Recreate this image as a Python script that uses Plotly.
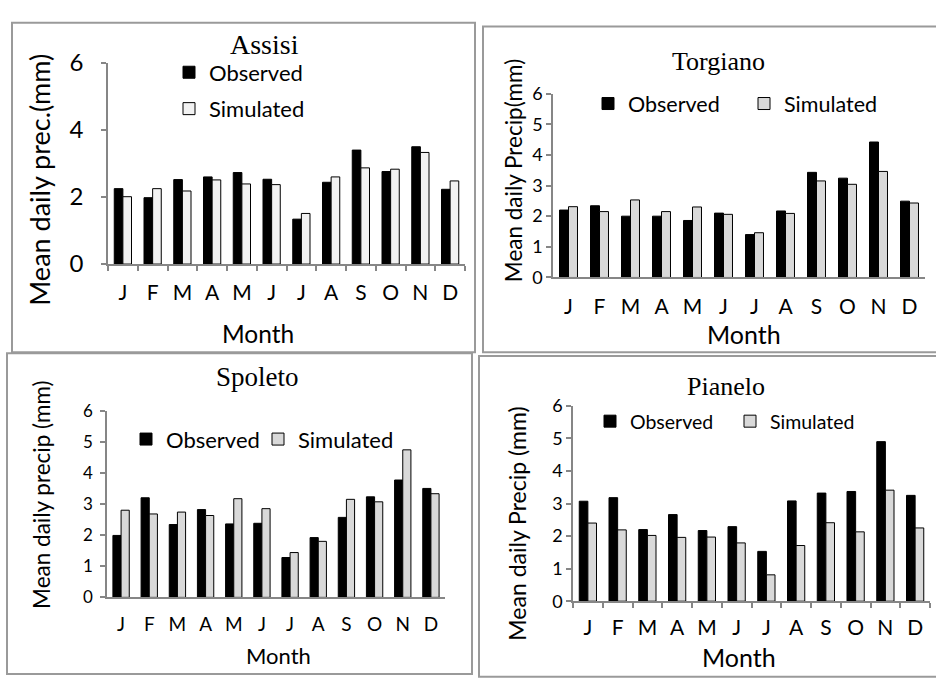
import plotly.graph_objects as go

W, H = 936, 687

months = ["J", "F", "M", "A", "M ", "J ", "J  ", "A ", "S", "O", "N", "D"]
month_text = ["J", "F", "M", "A", "M", "J", "J", "A", "S", "O", "N", "D"]

assisi_obs = [2.25, 1.98, 2.52, 2.60, 2.73, 2.53, 1.34, 2.44, 3.40, 2.76, 3.50, 2.23]
assisi_sim = [2.01, 2.25, 2.18, 2.51, 2.39, 2.37, 1.51, 2.60, 2.87, 2.83, 3.33, 2.48]

torgiano_obs = [2.20, 2.34, 2.00, 2.00, 1.86, 2.10, 1.40, 2.17, 3.43, 3.24, 4.42, 2.49]
torgiano_sim = [2.31, 2.15, 2.53, 2.15, 2.30, 2.06, 1.46, 2.09, 3.15, 3.04, 3.46, 2.43]

spoleto_obs = [1.99, 3.20, 2.34, 2.82, 2.36, 2.38, 1.28, 1.92, 2.57, 3.23, 3.77, 3.50]
spoleto_sim = [2.80, 2.68, 2.74, 2.63, 3.17, 2.85, 1.44, 1.80, 3.15, 3.07, 4.74, 3.33]

pianelo_obs = [3.07, 3.18, 2.20, 2.66, 2.17, 2.29, 1.53, 3.08, 3.32, 3.37, 4.90, 3.25]
pianelo_sim = [2.40, 2.19, 2.02, 1.96, 1.97, 1.79, 0.81, 1.71, 2.41, 2.13, 3.41, 2.25]

FONT = "Lato"
SERIF = "Liberation Serif"

def px_x(v):
    return v / W

def px_y(v):
    return 1 - v / H

panels = [
    dict(name="Assisi", obs=assisi_obs, sim=assisi_sim, simcol="#f2f2f2",
         xd=(108, 465), yd=(49, 259), dtick=2, ticks_x=True,
         ytitle="Mean daily prec.(mm)", tickfont=24, xfont=21, titlefont=28,
         tpos=(264, 30), ytpos=(40, 171), ytfont=27, mpos=(258, 332), mfont=24.5,
         leg_font=22, leg_obs=(169, 37), leg_sim=(169, 75),
         box=(12, 7, 475, 351), ystand=13, xstand=9),
    dict(name="Torgiano", obs=torgiano_obs, sim=torgiano_sim, simcol="#d9d9d9",
         xd=(553, 925), yd=(81, 273), dtick=1, ticks_x=False,
         ytitle="Mean daily Precip(mm)", tickfont=18, xfont=21, titlefont=26,
         tpos=(718, 48), ytpos=(513, 162), ytfont=22.5, mpos=(744, 332), mfont=25,
         leg_font=21.5, leg_obs=(588, 70), leg_sim=(744, 70),
         box=(483, 11, 940, 351), ystand=0, xstand=10),
    dict(name="Spoleto", obs=spoleto_obs, sim=spoleto_sim, simcol="#d9d9d9",
         xd=(107, 445), yd=(412, 607), dtick=1, ticks_x=False,
         ytitle="Mean daily precip (mm)", tickfont=17, xfont=19, titlefont=27,
         tpos=(257, 377), ytpos=(42, 500), ytfont=22.5, mpos=(278, 668), mfont=22,
         leg_font=22, leg_obs=(126, 420), leg_sim=(258, 420),
         box=(7, 352, 472, 687), ystand=4, xstand=9),
    dict(name="Pianelo", obs=pianelo_obs, sim=pianelo_sim, simcol="#d9d9d9",
         xd=(573, 930), yd=(407, 611), dtick=1, ticks_x=True,
         ytitle="Mean daily Precip (mm)", tickfont=18, xfont=21, titlefont=26,
         tpos=(726, 387), ytpos=(517, 530), ytfont=23, mpos=(739, 669), mfont=25,
         leg_font=19.5, leg_obs=(590, 403), leg_sim=(730, 403),
         box=(479, 355, 940, 690), ystand=0, xstand=7),
]

fig = go.Figure()
annotations = []
shapes = []

def legend_box(pos, size):
    return dict(x=px_x(pos[0]), y=px_y(pos[1]), xanchor="left", yanchor="top",
                xref="paper", yref="paper", orientation="v",
                bgcolor="rgba(0,0,0,0)", itemwidth=30,
                font=dict(family=FONT, size=size, color="black"))

for i, p in enumerate(panels):
    n = "" if i == 0 else str(i + 1)
    xa, ya = "x" + n, "y" + n
    lg_o = "legend" + ("" if i == 0 else str(2 * i + 1))
    lg_s = "legend" + str(2 * i + 2)
    fig.add_trace(go.Bar(x=months, y=p["obs"], name="Observed", xaxis=xa, yaxis=ya,
                         marker=dict(color="black", line=dict(color="black", width=1)),
                         legend=lg_o, hoverinfo="y"))
    fig.add_trace(go.Bar(x=months, y=p["sim"], name="Simulated", xaxis=xa, yaxis=ya,
                         marker=dict(color=p["simcol"], line=dict(color="black", width=1)),
                         legend=lg_s, hoverinfo="y"))
    fig.layout[lg_o] = legend_box(p["leg_obs"], p["leg_font"])
    fig.layout[lg_s] = legend_box(p["leg_sim"], p["leg_font"])
    xk, yk = "xaxis" + n, "yaxis" + n
    fig.layout[xk] = dict(
        domain=[px_x(p["xd"][0]), px_x(p["xd"][1])], anchor=ya,
        type="category", tickmode="array", tickvals=months, ticktext=month_text,
        tickangle=0,
        showline=True, linecolor="#868686", linewidth=1.5,
        ticks="outside" if p["ticks_x"] else "", tickson="boundaries",
        ticklen=5, tickcolor="#868686", tickwidth=1.5,
        tickfont=dict(family=FONT, size=p["xfont"], color="black"),
        ticklabelstandoff=p["xstand"], showgrid=False, zeroline=False, fixedrange=True)
    fig.layout[yk] = dict(
        domain=[px_y(p["yd"][1]), px_y(p["yd"][0])], anchor=xa,
        range=[0, 6], dtick=p["dtick"], tick0=0,
        showline=True, linecolor="#868686", linewidth=1.5,
        ticks="outside", ticklen=5, tickcolor="#868686", tickwidth=1.5,
        tickfont=dict(family=FONT, size=p["tickfont"], color="black"),
        ticklabelstandoff=p["ystand"], showgrid=False, zeroline=False, fixedrange=True)

    annotations.append(dict(text=p["name"], x=px_x(p["tpos"][0]), y=px_y(p["tpos"][1]),
                            xref="paper", yref="paper", showarrow=False,
                            xanchor="center", yanchor="middle",
                            font=dict(family=SERIF, size=p["titlefont"], color="black")))
    annotations.append(dict(text=p["ytitle"], x=px_x(p["ytpos"][0]), y=px_y(p["ytpos"][1]),
                            xref="paper", yref="paper", showarrow=False, textangle=-90,
                            xanchor="center", yanchor="middle",
                            font=dict(family=FONT, size=p["ytfont"], color="black")))
    annotations.append(dict(text="Month", x=px_x(p["mpos"][0]), y=px_y(p["mpos"][1]),
                            xref="paper", yref="paper", showarrow=False,
                            xanchor="center", yanchor="middle",
                            font=dict(family=FONT, size=p["mfont"], color="black")))
    b = p["box"]
    shapes.append(dict(type="rect", xref="paper", yref="paper",
                       x0=px_x(b[0]), x1=px_x(b[2]), y0=px_y(b[3]), y1=px_y(b[1]),
                       line=dict(color="#9a9a9a", width=2), layer="below"))

fig.update_layout(
    width=W, height=H, margin=dict(l=0, r=0, t=0, b=0),
    paper_bgcolor="white", plot_bgcolor="white",
    barmode="group", bargap=0.42, bargroupgap=0,
    annotations=annotations, shapes=shapes, showlegend=True,
)

fig.write_html("out.html", config={"displayModeBar": False})
